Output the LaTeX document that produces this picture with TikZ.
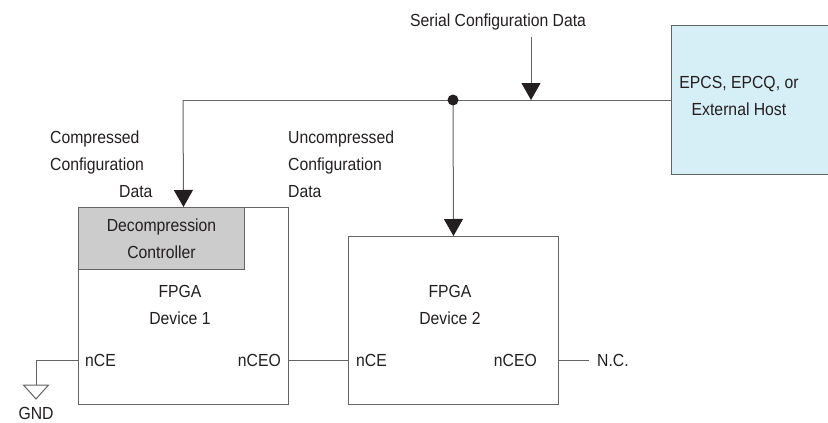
\documentclass[tikz,border=0pt]{standalone}
\usepackage{fontspec}
\setmainfont{Liberation Sans}[FakeStretch=0.9]
\usetikzlibrary{arrows.meta, positioning}
\definecolor{CtrlGray}{RGB}{204,204,204}
\definecolor{HostBlue}{RGB}{214,238,245}
\definecolor{LineG}{RGB}{100,100,100}
\definecolor{TipK}{RGB}{35,31,32}

\begin{document}
\begin{tikzpicture}[x=1pt, y=-1pt,
  every node/.style={font=\fontsize{17.5}{27}\selectfont, text=TipK, inner sep=0pt},
  fpga/.style={draw=LineG, line width=1pt, anchor=north west, minimum width=210pt},
  ctrl/.style={draw=LineG, line width=1pt, fill=CtrlGray, anchor=north west,
               minimum width=166pt, minimum height=62pt, align=center},
  host/.style={draw=LineG, line width=1pt, fill=HostBlue, anchor=north west,
               minimum width=157pt, minimum height=149pt},
  wire/.style={draw=LineG, line width=1pt},
  feed/.style={wire, -{Triangle[width=19pt, length=17pt, color=TipK]}}
]
\useasboundingbox (0,0) rectangle (828,423);

% boxes
\node[fpga, minimum height=197pt] (dev1) at (78,207) {};
\node[fpga, minimum height=168pt] (dev2) at (348,236) {};
\node[ctrl] (decomp) at (dev1.north west) {Decompression\\Controller};
\node[host] (host) at (671,25) {};

% labels
\node[align=center] (hostlbl) at (739,96) {EPCS, EPCQ, or\\External Host};
\node (serial) at (498,22) {Serial Configuration Data};
\node[align=left, anchor=west] (cmp) at (50,164) {Compressed\\Configuration\\\hspace*{69pt}Data};
\node[align=left, anchor=west] (ucmp) at (288,164) {Uncompressed\\Configuration\\Data};
\node[align=center] (dev1lbl) at (180,305) {FPGA\\Device 1};
\node[align=center] (dev2lbl) at (450,305) {FPGA\\Device 2};
\node[anchor=west] (ce1) at (85,360) {nCE};
\node[anchor=east] (ceo1) at (281,360) {nCEO};
\node[anchor=west] (ce2) at (356,360) {nCE};
\node[anchor=east] (ceo2) at (537,360) {nCEO};
\node[anchor=west] (nc) at (597,360) {N.C.};
\node (gndlbl) at (36,413) {GND};

\coordinate (corner) at (183,100);
\coordinate (tap) at (453,100);
\coordinate (serialin) at (531,37);
\coordinate (serialat) at (531,100);
\coordinate (gndcorner) at (36,360);
\coordinate (gndtop) at (36,385);

% configuration bus
\draw[wire] (host.west |- corner) -- (corner);
\draw[feed] (corner) -- (dev1.north);
\draw[feed] (tap) -- (dev2.north);
\fill[TipK] (tap) circle (5.5pt);
\draw[feed] (serialin) -- (serialat);

% chain
\draw[wire] (dev1.east |- ce1) -- (dev2.west |- ce2);
\draw[wire] (dev2.east |- nc) -- ([xshift=-8pt]nc.west);
\draw[wire] (dev1.west |- ce1) -- (gndcorner) -- (gndtop);
\draw[wire, line join=miter] (gndtop) ++(-12.5,0) -- ++(25,0) -- ++(-12.5,14) -- cycle;
\end{tikzpicture}
\end{document}
